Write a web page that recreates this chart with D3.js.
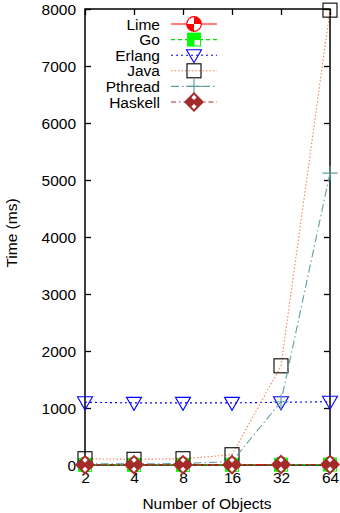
<!DOCTYPE html>
<html><head><meta charset="utf-8">
<script src="https://cdn.jsdelivr.net/npm/d3@7"></script>
<style>body{margin:0;background:#fff}svg{display:block}text{font-family:"Liberation Sans",Arial,sans-serif}</style>
</head><body><svg id="c" width="340" height="513"></svg>
<script>
const categories = ["2","4","8","16","32","64"];
const yTicks = [0,1000,2000,3000,4000,5000,6000,7000,8000];
const lime    = [5, 5, 5, 5, 10, 10];
const go      = [2, 2, 2, 3, 5, 8];
const erlang  = [1100, 1090, 1090, 1090, 1100, 1110];
const java    = [110, 100, 110, 180, 1740, 7980];
const pthread = [20, 20, 25, 60, 1110, 5120];
const haskell = [5, 5, 5, 5, 8, 10];
const seriesNames = ["Lime","Go","Erlang","Java","Pthread","Haskell"];

const FS = 15.5;
const svg = d3.select("#c");
const L = 85, R = 330, T = 9, B = 465;
const x = d3.scalePoint().domain(categories).range([L, R]);
const y = d3.scaleLinear().domain([0, 8000]).range([B, T]);

const series = [
  {name:seriesNames[0], data:lime, color:"#ff0000", dash:null, mk:"lime"},
  {name:seriesNames[1], data:go, color:"#00e000", dash:"4,3", mk:"go"},
  {name:seriesNames[2], data:erlang, color:"#0000ff", dash:"2,3", mk:"erlang"},
  {name:seriesNames[3], data:java, color:"#ff7f50", dash:"1.5,2", mk:"java"},
  {name:seriesNames[4], data:pthread, color:"#5f9ea0", dash:"8,3,1.5,3", mk:"pthread"},
  {name:seriesNames[5], data:haskell, color:"#a52a2a", dash:"5,3,1.5,3", mk:"haskell"}
];

function marker(g, type, cx, cy, color) {
  const m = g.append("g").attr("transform", `translate(${cx},${cy})`);
  if (type === "lime") {
    const r = 7.3;
    m.append("circle").attr("r", r).attr("fill", "#fff").attr("stroke", color).attr("stroke-width", 1.2);
    m.append("path").attr("d", `M0,0 L0,${-r} A${r},${r} 0 0 1 ${r},0 Z`).attr("fill", color);
    m.append("path").attr("d", `M0,0 L0,${r} A${r},${r} 0 0 1 ${-r},0 Z`).attr("fill", color);
  } else if (type === "go") {
    m.append("rect").attr("x", -7).attr("y", -7).attr("width", 14).attr("height", 14).attr("fill", "#00ff00");
    m.append("rect").attr("x", 0.5).attr("y", 0.5).attr("width", 5.5).attr("height", 5.5).attr("fill", "#fff");
  } else if (type === "erlang") {
    m.append("path").attr("d", "M-7.5,-5.5 L7.5,-5.5 L0,7.5 Z").attr("fill", "none").attr("stroke", color).attr("stroke-width", 1.1);
  } else if (type === "java") {
    m.append("rect").attr("x", -7).attr("y", -7).attr("width", 14).attr("height", 14).attr("fill", "none").attr("stroke", "#000").attr("stroke-width", 1.1);
  } else if (type === "pthread") {
    m.append("path").attr("d", "M-7.5,0 L7.5,0 M0,-7.5 L0,7.5").attr("stroke", color).attr("stroke-width", 1.2);
  } else if (type === "haskell") {
    const s = 10;
    m.append("path").attr("d", `M0,${-s} L${s},0 L0,${s} L${-s},0 Z`).attr("fill", color);
    const w = 2.6;
    [[0,-4.6],[0,4.6]].forEach(([dx,dy]) => {
      m.append("path").attr("d", `M${dx},${dy-w} L${dx+w},${dy} L${dx},${dy+w} L${dx-w},${dy} Z`).attr("fill", "#fff");
    });
  }
}

// frame
svg.append("rect").attr("x", L).attr("y", T).attr("width", R - L).attr("height", B - T)
  .attr("fill", "none").attr("stroke", "#000").attr("stroke-width", 1.5);

const gy = svg.append("g").attr("transform", `translate(${L},0)`)
  .call(d3.axisLeft(y).tickValues(yTicks).tickSize(-6).tickPadding(9).tickFormat(d3.format("d")));
const gyr = svg.append("g").attr("transform", `translate(${R},0)`)
  .call(d3.axisRight(y).tickValues(yTicks).tickSize(-6).tickFormat(""));
const gx = svg.append("g").attr("transform", `translate(0,${B})`)
  .call(d3.axisBottom(x).tickSize(-6).tickPadding(9));
const gxt = svg.append("g").attr("transform", `translate(0,${T})`)
  .call(d3.axisTop(x).tickSize(-6).tickFormat(""));
[gy, gyr, gx, gxt].forEach(g => {
  g.select(".domain").remove();
  g.selectAll(".tick line").attr("stroke", "#000").attr("stroke-width", 1.3);
  g.selectAll("text").attr("font-size", FS).attr("fill", "#000").attr("font-family", "Liberation Sans, Arial, sans-serif");
});
gy.selectAll("text").attr("dy", "0.36em");
gx.selectAll("text").attr("dy", "0.6em");

svg.append("text").attr("x", 207).attr("y", 509).attr("text-anchor", "middle")
  .attr("font-size", FS).text("Number of Objects");
svg.append("text").attr("transform", "translate(17,233) rotate(-90)").attr("text-anchor", "middle")
  .attr("font-size", FS).text("Time (ms)");

// series
const line = d3.line().x((d, i) => x(categories[i])).y(d => y(d));
const sg = svg.append("g");
series.forEach(s => {
  sg.append("path").attr("d", line(s.data)).attr("fill", "none").attr("stroke", s.color)
    .attr("stroke-width", 1.1).attr("stroke-dasharray", s.dash);
  s.data.forEach((v, i) => marker(sg, s.mk, x(categories[i]), y(v), s.color));
});

// legend
const legY = [24, 39.6, 55.2, 70.8, 86.4, 102];
const lg = svg.append("g");
series.forEach((s, i) => {
  const yy = legY[i];
  lg.append("text").attr("x", 160).attr("y", yy).attr("dy", "0.36em").attr("text-anchor", "end")
    .attr("font-size", FS).text(s.name);
  lg.append("line").attr("x1", 171).attr("x2", 217).attr("y1", yy).attr("y2", yy)
    .attr("stroke", s.color).attr("stroke-width", 1.1).attr("stroke-dasharray", s.dash);
  marker(lg, s.mk, 194, yy, s.color);
});
</script></body></html>
